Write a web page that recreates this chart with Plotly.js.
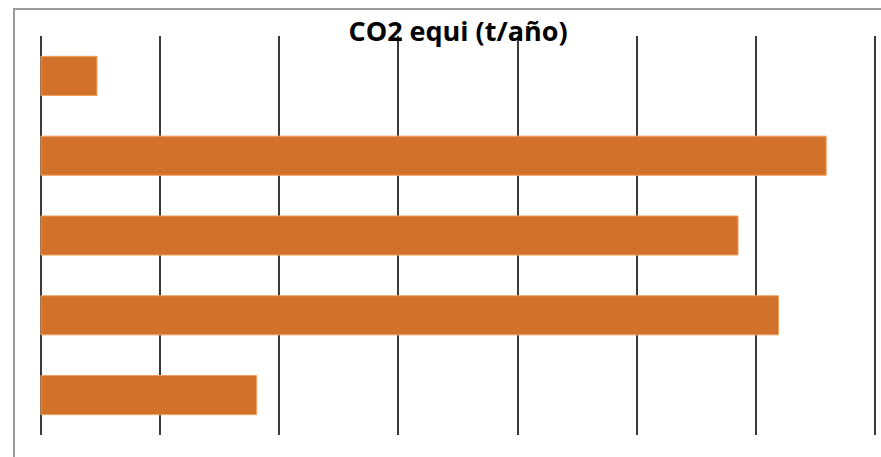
<!DOCTYPE html>
<html>
<head>
<meta charset="utf-8">
<script src="https://cdn.plot.ly/plotly-3.0.1.min.js"></script>
<style>html,body{margin:0;padding:0;background:#fff;}#chart{width:881px;height:457px;}</style>
</head>
<body>
<div id="chart"></div>
<script>
const categories = ["Categoría 1", "Categoría 2", "Categoría 3", "Categoría 4", "Categoría 5"];
const co2Values = [0.47, 6.59, 5.85, 6.19, 1.81];
const titleText = "CO2 equi (t/año)";

const trace = {
  type: "bar",
  orientation: "h",
  y: categories,
  x: co2Values,
  marker: {color: "#D2712A", line: {color: "#F0A060", width: 1}},
  hoverinfo: "x"
};

const layout = {
  width: 881, height: 457,
  margin: {l: 35, r: 0, t: 36, b: 22, pad: 0},
  paper_bgcolor: "#ffffff",
  plot_bgcolor: "rgba(0,0,0,0)",
  showlegend: false,
  bargap: 0.51,
  title: {
    text: "<b>" + titleText + "</b>",
    font: {family: "'Open Sans', 'Liberation Sans', sans-serif", size: 27, color: "#000"},
    x: 458 / 881, xref: "container", xanchor: "center",
    y: 0.93, yref: "container", yanchor: "middle"
  },
  xaxis: {
    range: [-0.05, 7.05],
    dtick: 1, tick0: 0,
    showgrid: true, gridcolor: "#3a3a3a", gridwidth: 2,
    zeroline: true, zerolinecolor: "#3a3a3a", zerolinewidth: 2,
    showticklabels: false, ticks: "", showline: false,
    fixedrange: true
  },
  yaxis: {
    type: "category",
    autorange: "reversed",
    showgrid: false, zeroline: false,
    showticklabels: false, ticks: "", showline: false,
    fixedrange: true
  },
  shapes: [{
    type: "rect", xref: "paper", yref: "paper",
    x0: (14 - 35) / 846, x1: 1.2, y0: -0.3, y1: 1.0677,
    line: {color: "#9a9a9a", width: 2}, layer: "below"
  }]
};

Plotly.newPlot("chart", [trace], layout, {displayModeBar: false, staticPlot: true});
</script>
</body>
</html>
